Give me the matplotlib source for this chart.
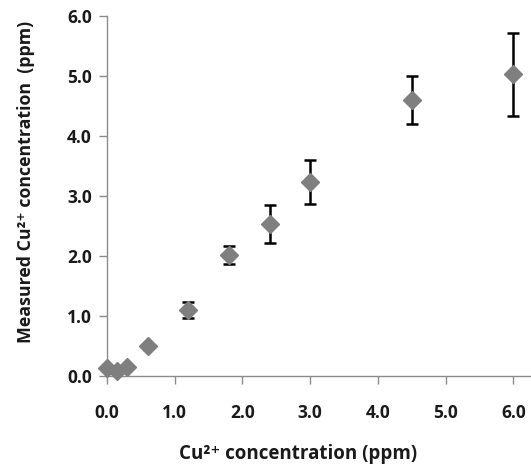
import matplotlib.pyplot as plt

# Cu2+ spiked vs measured (ppm)
added = [0.0, 0.15, 0.3, 0.6, 1.2, 1.8, 2.4, 3.0, 4.5, 6.0]
measured = [0.13, 0.08, 0.15, 0.50, 1.10, 2.02, 2.53, 3.23, 4.60, 5.03]
err = [0.0, 0.0, 0.0, 0.0, 0.14, 0.15, 0.32, 0.37, 0.40, 0.69]
ticks = [0.0, 1.0, 2.0, 3.0, 4.0, 5.0, 6.0]

plt.rcParams['font.family'] = ['Open Sans', 'DejaVu Sans']
plt.rcParams['font.weight'] = 'bold'

fig = plt.figure(figsize=(5.31, 4.66), dpi=100)
ax = fig.add_axes([107 / 531, 90 / 466, 424 / 531, 360 / 466])

ax.errorbar(added, measured, yerr=err, fmt='none', ecolor='black',
            elinewidth=1.8, capsize=4, capthick=1.8, zorder=2)
ax.plot(added, measured, 'D', color='#7f7f7f', markersize=9.5, zorder=3,
        clip_on=False)

ax.set_xlim(0, 6.26)
ax.set_ylim(0, 6)
ax.set_xticks(ticks)
ax.set_yticks(ticks)
ax.set_xticklabels([f'{t:.1f}' for t in ticks])
ax.set_yticklabels([f'{t:.1f}' for t in ticks])

for s in ['top', 'right']:
    ax.spines[s].set_visible(False)
for s in ['left', 'bottom']:
    ax.spines[s].set_color('#8c8c8c')
    ax.spines[s].set_linewidth(1.0)
ax.tick_params(axis='both', colors='#8c8c8c', labelcolor='#1a1a1a',
               labelsize=12.5, length=6, width=1.0, direction='out')
ax.tick_params(axis='x', pad=14)
ax.tick_params(axis='y', pad=5)

ax.set_xlabel('Cu²⁺ concentration (ppm)', fontsize=13.5,
              fontweight='bold', color='#1a1a1a', va='center', ha='center')
ax.set_ylabel('Measured Cu²⁺ concentration  (ppm)', fontsize=12.8,
              fontweight='bold', color='#1a1a1a', va='center', ha='center')
ax.xaxis.set_label_coords(0.45, -0.217)
ax.yaxis.set_label_coords(-0.191, 0.54)

fig.savefig('out.png', dpi=100)
